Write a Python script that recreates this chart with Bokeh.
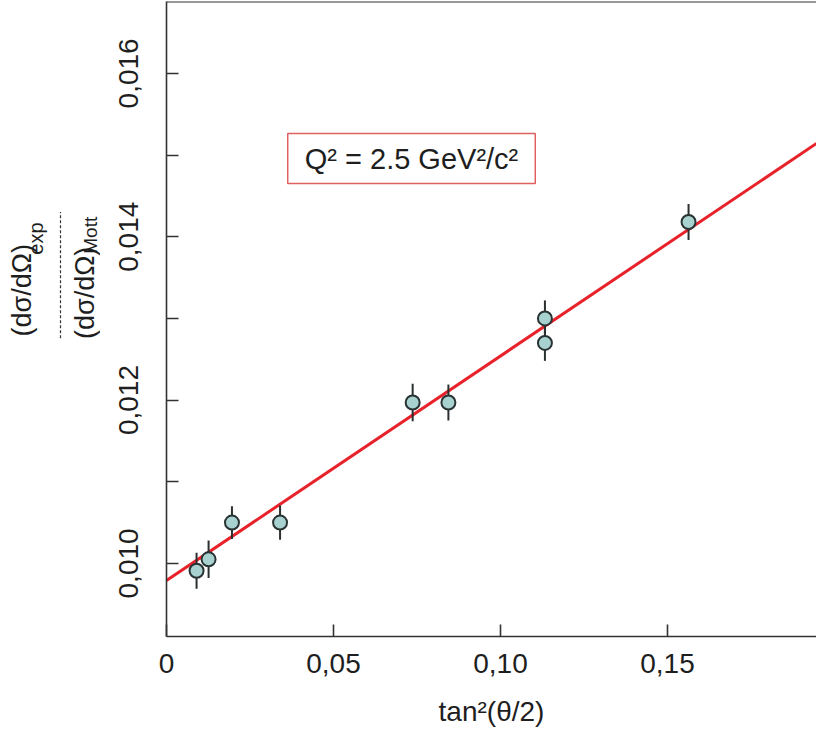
import math
from bokeh.plotting import figure
from bokeh.layouts import row
from bokeh.models import Range1d, FixedTicker, Label, Span
from bokeh.core.properties import value
from bokeh.embed import file_html
from bokeh.resources import INLINE

# ---- data ----
tan2_half_theta = [0.0090, 0.0126, 0.0196, 0.0340, 0.0737, 0.0844, 0.1133, 0.1133, 0.1563]
ratio = [0.00991, 0.01005, 0.01050, 0.01050, 0.01197, 0.01197, 0.01300, 0.01270, 0.01418]
ratio_err = [0.00022, 0.00023, 0.00020, 0.00021, 0.00023, 0.00022, 0.00022, 0.00022, 0.00022]
fit_intercept = 0.00979
fit_slope = 0.0275
x_ticks = [0.0, 0.05, 0.10, 0.15]
x_tick_labels = ["0", "0,05", "0,10", "0,15"]
y_ticks = [0.010, 0.012, 0.014, 0.016]
y_minor_ticks = [0.011, 0.013, 0.015]
y_tick_labels = ["0,010", "0,012", "0,014", "0,016"]
box_text = "Q² = 2.5 GeV²/c²"
x_title = "tan²(θ/2)"
y_title_num = "(dσ/dΩ)"
y_title_num_sub = "exp"
y_title_den = "(dσ/dΩ)"
y_title_den_sub = "Mott"

FONT = "Liberation Sans"
TXT = "#1e1e1e"
AX = "#333333"

PAGE_H = 730
LW = 100                      # width of the y-title strip
W = 716                       # main figure width
ML, MB, MT = 66, PAGE_H - 636, 1
X0, X1 = 0.0, 0.19461
Y0, Y1 = 0.009105, 0.016880

p = figure(width=W, height=PAGE_H, output_backend="svg", toolbar_location=None,
           x_range=Range1d(X0, X1), y_range=Range1d(Y0, Y1),
           min_border_left=ML, min_border_right=0, min_border_top=MT, min_border_bottom=MB,
           background_fill_color="white", border_fill_color="white")
p.outline_line_color = None
p.grid.visible = False

fw = W - ML
fh = PAGE_H - MB - MT
def px2d(px, py):
    cx = px - LW - ML
    cy = py - MT
    return X0 + cx / fw * (X1 - X0), Y1 - cy / fh * (Y1 - Y0)

# fit line
xs = [X0, X1]
ys = [fit_intercept + fit_slope * v for v in xs]
p.line(xs, ys, line_color="#e8222a", line_width=3)

# error bars and points
lo = [v - e for v, e in zip(ratio, ratio_err)]
hi = [v + e for v, e in zip(ratio, ratio_err)]
p.segment(x0=tan2_half_theta, y0=lo, x1=tan2_half_theta, y1=hi, line_color="#2a2f30", line_width=2)
p.scatter(tan2_half_theta, ratio, size=14, fill_color="#a8d2d0", line_color="#2a3333", line_width=2)

# axes
xa = p.xaxis[0]
xa.ticker = FixedTicker(ticks=x_ticks, minor_ticks=[])
xa.major_label_overrides = {t: l for t, l in zip(x_ticks, x_tick_labels)}
ya = p.yaxis[0]
ya.ticker = FixedTicker(ticks=y_ticks, minor_ticks=y_minor_ticks)
ya.major_label_overrides = {t: l for t, l in zip(y_ticks, y_tick_labels)}
ya.major_label_orientation = "vertical"
for ax in (xa, ya):
    ax.axis_line_color = AX
    ax.axis_line_width = 1.6
    ax.major_tick_line_color = AX
    ax.minor_tick_line_color = AX
    ax.major_tick_line_width = 1.6
    ax.minor_tick_line_width = 1.6
    ax.major_tick_in = 12
    ax.major_tick_out = 0
    ax.minor_tick_in = 12
    ax.minor_tick_out = 0
    ax.major_label_text_font = FONT
    ax.major_label_text_font_size = "28px"
    ax.major_label_text_color = TXT
xa.major_label_standoff = 17
ya.major_label_standoff = 28
xa.axis_label = x_title
xa.axis_label_text_font = FONT
xa.axis_label_text_font_size = "28px"
xa.axis_label_text_font_style = "normal"
xa.axis_label_text_color = TXT
xa.axis_label_standoff = 20

# top frame line
p.add_layout(Span(location=Y1, dimension="width", line_color=AX, line_width=2))

# Q^2 box
bx, by = px2d(411, 158)
p.add_layout(Label(x=bx, y=by, text=box_text, text_align="center", text_baseline="middle",
                   text_font=FONT, text_font_size="29px", text_color=TXT,
                   border_line_color="#e06060", border_line_width=1.5,
                   background_fill_color="white",
                   padding=dict(left=17, right=17, top=9, bottom=9)))

# ---- y-axis title strip (x: page px, y: page px measured from the bottom) ----
t = figure(width=LW, height=PAGE_H, output_backend="svg", toolbar_location=None,
           x_range=Range1d(0, LW), y_range=Range1d(0, PAGE_H),
           x_axis_type=None, y_axis_type=None,
           min_border_left=0, min_border_right=0, min_border_top=0, min_border_bottom=0,
           background_fill_color="white", border_fill_color="white")
t.outline_line_color = None
t.grid.visible = False

def vtext(px, py, text, size):
    t.text(x=[px], y=[PAGE_H - py], text=[text], angle=math.pi / 2, text_align="left",
           text_baseline="alphabetic", text_font=value(FONT), text_font_size=value(size),
           text_color=TXT)

vtext(21, 385, y_title_num, "27px")
vtext(35, 291, y_title_num_sub, "20px")
t.line(x=[60, 60], y=[PAGE_H - 387, PAGE_H - 242], line_color="#333333", line_width=1.2,
       line_dash="3 2")
vtext(84, 388, y_title_den, "27px")
vtext(90, 290, y_title_den_sub, "19px")

layout = row(t, p, spacing=0)
open("out.html", "w").write(file_html(layout, INLINE))
